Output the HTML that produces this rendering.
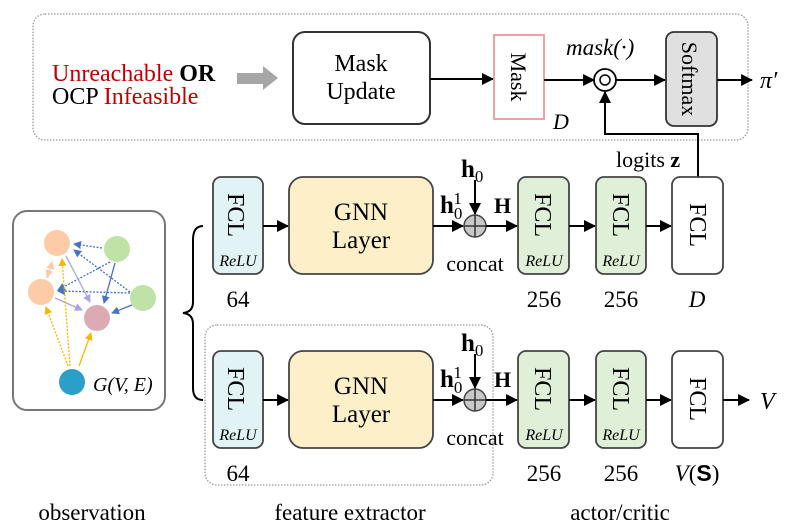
<!DOCTYPE html>
<html><head><meta charset="utf-8"><style>
html,body{margin:0;padding:0;background:#fff;}
svg{display:block;font-family:"Liberation Serif",serif;}
</style></head><body>
<svg width="798" height="532" viewBox="0 0 798 532" xmlns="http://www.w3.org/2000/svg">
<defs>
<marker id="a" markerWidth="12" markerHeight="12" refX="11" refY="6" orient="auto" markerUnits="userSpaceOnUse"><path d="M0,0 L12,6 L0,12 z" fill="#000"/></marker>
<marker id="ab" markerWidth="8" markerHeight="8" refX="7" refY="4" orient="auto" markerUnits="userSpaceOnUse"><path d="M0,0 L8,4 L0,8 z" fill="#4472c4"/></marker>
<marker id="ap" markerWidth="8" markerHeight="8" refX="7" refY="4" orient="auto" markerUnits="userSpaceOnUse"><path d="M0,0 L8,4 L0,8 z" fill="#a9a4e0"/></marker>
<marker id="ay" markerWidth="8" markerHeight="8" refX="7" refY="4" orient="auto" markerUnits="userSpaceOnUse"><path d="M0,0 L8,4 L0,8 z" fill="#f5b800"/></marker>
<marker id="ao" markerWidth="8" markerHeight="8" refX="7" refY="4" orient="auto" markerUnits="userSpaceOnUse"><path d="M0,0 L8,4 L0,8 z" fill="#f8cba8"/></marker>
</defs>

<rect x="33" y="14" width="715" height="126" rx="12" fill="none" stroke="#999" stroke-width="1.3" stroke-dasharray="1.5 1.5"/>
<text x="52" y="81" font-size="24" fill="#c00000">Unreachable <tspan fill="#000" font-weight="bold">OR</tspan></text>
<text x="52" y="104" font-size="24">OCP <tspan fill="#c00000">Infeasible</tspan></text>
<path d="M237,73 L263,73 L263,66 L278,78 L263,90 L263,84 L237,84 z" fill="#a6a6a6"/>
<rect x="293" y="32" width="137" height="92" rx="12" fill="#fff" stroke="#333" stroke-width="2"/>
<text x="361" y="71" font-size="24" text-anchor="middle">Mask</text>
<text x="361" y="99" font-size="24" text-anchor="middle">Update</text>
<line x1="430" y1="79" x2="493" y2="79" stroke="#000" stroke-width="2" marker-end="url(#a)"/>
<rect x="494" y="35" width="50" height="84" fill="#fff" stroke="#f0a0a0" stroke-width="2"/>
<text transform="translate(511,77) rotate(90)" font-size="22" text-anchor="middle">Mask</text>
<text x="553" y="129" font-size="22" font-style="italic">D</text>
<line x1="544" y1="80" x2="594" y2="80" stroke="#000" stroke-width="2" marker-end="url(#a)"/>
<circle cx="605" cy="80" r="11" fill="#fff" stroke="#000" stroke-width="1.8"/>
<circle cx="605" cy="80" r="5" fill="#fff" stroke="#000" stroke-width="1.5"/>
<text x="566" y="55" font-size="23" font-style="italic">mask(·)</text>
<line x1="616" y1="80" x2="665" y2="80" stroke="#000" stroke-width="2" marker-end="url(#a)"/>
<rect x="666" y="32" width="51" height="94" rx="8" fill="#e0e0e0" stroke="#333" stroke-width="1.8"/>
<text transform="translate(682,79) rotate(90)" font-size="22" text-anchor="middle">Softmax</text>
<line x1="717" y1="80" x2="752" y2="80" stroke="#000" stroke-width="2" marker-end="url(#a)"/>
<text x="760" y="88" font-size="24" font-style="italic">π′</text>
<polyline points="698,178 698,134 605,134 605,92" fill="none" stroke="#000" stroke-width="2" marker-end="url(#a)"/>
<text x="616" y="167" font-size="22">logits <tspan font-weight="bold">z</tspan></text>

<rect x="13" y="211" width="152" height="199" rx="14" fill="#fff" stroke="#777" stroke-width="2"/>
<g stroke-width="1.3" fill="none">
<line x1="102" y1="248" x2="74" y2="244" stroke="#4472c4" stroke-dasharray="2 1.5" marker-end="url(#ab)"/>
<line x1="130" y1="292" x2="74" y2="250" stroke="#4472c4" stroke-dasharray="2 1.5" marker-end="url(#ab)"/>
<line x1="110" y1="262" x2="58" y2="290" stroke="#4472c4" stroke-dasharray="2 1.5" marker-end="url(#ab)"/>
<line x1="130" y1="293" x2="58" y2="291" stroke="#4472c4" stroke-dasharray="2 1.5" marker-end="url(#ab)"/>
<line x1="115" y1="263" x2="104" y2="303" stroke="#4472c4" marker-end="url(#ab)"/>
<line x1="132" y1="305" x2="112" y2="313" stroke="#4472c4" marker-end="url(#ab)"/>
<line x1="66" y1="256" x2="90" y2="302" stroke="#a9a4e0" marker-end="url(#ap)"/>
<line x1="55" y1="298" x2="82" y2="310" stroke="#a9a4e0" marker-end="url(#ap)"/>
<line x1="51" y1="266" x2="47" y2="277" stroke="#f8cba8" stroke-dasharray="2 1.5" marker-end="url(#ao)"/>
<line x1="48" y1="278" x2="52" y2="262" stroke="#f8cba8" stroke-dasharray="2 1.5" marker-end="url(#ao)"/>
<line x1="68" y1="366" x2="46" y2="307" stroke="#f5b800" stroke-dasharray="2 1.5" marker-end="url(#ay)"/>
<line x1="70" y1="366" x2="62" y2="259" stroke="#f5b800" stroke-dasharray="2 1.5" marker-end="url(#ay)"/>
<line x1="79" y1="366" x2="91" y2="333" stroke="#f5b800" marker-end="url(#ay)"/>
</g>
<circle cx="57" cy="243" r="13" fill="#fdcba6"/>
<circle cx="117" cy="249" r="13" fill="#bfe2a6"/>
<circle cx="41" cy="292" r="13" fill="#fdcba6"/>
<circle cx="143" cy="298" r="13" fill="#bfe2a6"/>
<circle cx="97" cy="318" r="13" fill="#dcaab2"/>
<circle cx="72" cy="382" r="13" fill="#2aa0c8"/>
<text x="93" y="391" font-size="20" font-style="italic">G(V, E)</text>

<path d="M203,226 Q193,226 193,240 L193,302 Q193,312 183,313 Q193,314 193,324 L193,388 Q193,400 203,400" fill="none" stroke="#000" stroke-width="2"/>

<rect x="205" y="325" width="288" height="160" rx="12" fill="none" stroke="#999" stroke-width="1.3" stroke-dasharray="1.5 1.5"/>

<g>
<rect x="213" y="177" width="50" height="97" rx="8" fill="#e2f3f5" stroke="#444" stroke-width="1.8"/>
<text transform="translate(228,215) rotate(90)" font-size="24" text-anchor="middle">FCL</text>
<text x="238" y="266" font-size="16" font-style="italic" text-anchor="middle">ReLU</text>
<line x1="263" y1="226" x2="288" y2="226" stroke="#000" stroke-width="2" marker-end="url(#a)"/>
<rect x="289" y="177" width="144" height="97" rx="14" fill="#fdf0c8" stroke="#444" stroke-width="1.8"/>
<text x="361" y="220" font-size="25" text-anchor="middle">GNN</text>
<text x="361" y="248" font-size="25" text-anchor="middle">Layer</text>
<line x1="433" y1="226" x2="463" y2="226" stroke="#000" stroke-width="2" marker-end="url(#a)"/>
<circle cx="475" cy="226" r="11" fill="#c8c8c8" stroke="#444" stroke-width="1.5"/>
<path d="M464,226 H486 M475,215 V237" stroke="#333" stroke-width="1.5"/>
<line x1="475" y1="180" x2="475" y2="214" stroke="#000" stroke-width="2" marker-end="url(#a)"/>
<text x="461" y="177" font-size="25" font-weight="bold">h<tspan font-size="17" dy="5" font-weight="normal">0</tspan></text>
<text x="440" y="213" font-size="25" font-weight="bold">h<tspan font-size="17" dy="6" font-weight="normal">0</tspan><tspan font-size="17" dx="-9" dy="-15" font-weight="normal">1</tspan></text>
<text x="494" y="213" font-size="22" font-weight="bold">H</text>
<text x="475" y="271" font-size="22" text-anchor="middle">concat</text>
<line x1="486" y1="226" x2="517" y2="226" stroke="#000" stroke-width="2" marker-end="url(#a)"/>
<rect x="518" y="177" width="51" height="97" rx="8" fill="#e0f0d8" stroke="#444" stroke-width="1.8"/>
<text transform="translate(535,215) rotate(90)" font-size="24" text-anchor="middle">FCL</text>
<text x="544" y="266" font-size="16" font-style="italic" text-anchor="middle">ReLU</text>
<line x1="569" y1="226" x2="595" y2="226" stroke="#000" stroke-width="2" marker-end="url(#a)"/>
<rect x="596" y="177" width="50" height="97" rx="8" fill="#e0f0d8" stroke="#444" stroke-width="1.8"/>
<text transform="translate(613,215) rotate(90)" font-size="24" text-anchor="middle">FCL</text>
<text x="621" y="266" font-size="16" font-style="italic" text-anchor="middle">ReLU</text>
<line x1="646" y1="226" x2="671" y2="226" stroke="#000" stroke-width="2" marker-end="url(#a)"/>
<rect x="672" y="177" width="51" height="97" rx="8" fill="#fff" stroke="#444" stroke-width="1.8"/>
<text transform="translate(690,225) rotate(90)" font-size="24" text-anchor="middle">FCL</text>
<text x="238" y="307" font-size="23" text-anchor="middle">64</text>
<text x="544" y="307" font-size="23" text-anchor="middle">256</text>
<text x="621" y="307" font-size="23" text-anchor="middle">256</text>
<text x="697" y="307" font-size="23" font-style="italic" text-anchor="middle">D</text>

<rect x="213" y="351" width="50" height="97" rx="8" fill="#e2f3f5" stroke="#444" stroke-width="1.8"/>
<text transform="translate(228,389) rotate(90)" font-size="24" text-anchor="middle">FCL</text>
<text x="238" y="440" font-size="16" font-style="italic" text-anchor="middle">ReLU</text>
<line x1="263" y1="400" x2="288" y2="400" stroke="#000" stroke-width="2" marker-end="url(#a)"/>
<rect x="289" y="351" width="144" height="97" rx="14" fill="#fdf0c8" stroke="#444" stroke-width="1.8"/>
<text x="361" y="394" font-size="25" text-anchor="middle">GNN</text>
<text x="361" y="422" font-size="25" text-anchor="middle">Layer</text>
<line x1="433" y1="400" x2="463" y2="400" stroke="#000" stroke-width="2" marker-end="url(#a)"/>
<circle cx="475" cy="400" r="11" fill="#c8c8c8" stroke="#444" stroke-width="1.5"/>
<path d="M464,400 H486 M475,389 V411" stroke="#333" stroke-width="1.5"/>
<line x1="475" y1="354" x2="475" y2="388" stroke="#000" stroke-width="2" marker-end="url(#a)"/>
<text x="461" y="351" font-size="25" font-weight="bold">h<tspan font-size="17" dy="5" font-weight="normal">0</tspan></text>
<text x="440" y="387" font-size="25" font-weight="bold">h<tspan font-size="17" dy="6" font-weight="normal">0</tspan><tspan font-size="17" dx="-9" dy="-15" font-weight="normal">1</tspan></text>
<text x="494" y="387" font-size="22" font-weight="bold">H</text>
<text x="475" y="445" font-size="22" text-anchor="middle">concat</text>
<line x1="486" y1="400" x2="517" y2="400" stroke="#000" stroke-width="2" marker-end="url(#a)"/>
<rect x="518" y="351" width="51" height="97" rx="8" fill="#e0f0d8" stroke="#444" stroke-width="1.8"/>
<text transform="translate(535,389) rotate(90)" font-size="24" text-anchor="middle">FCL</text>
<text x="544" y="440" font-size="16" font-style="italic" text-anchor="middle">ReLU</text>
<line x1="569" y1="400" x2="595" y2="400" stroke="#000" stroke-width="2" marker-end="url(#a)"/>
<rect x="596" y="351" width="50" height="97" rx="8" fill="#e0f0d8" stroke="#444" stroke-width="1.8"/>
<text transform="translate(613,389) rotate(90)" font-size="24" text-anchor="middle">FCL</text>
<text x="621" y="440" font-size="16" font-style="italic" text-anchor="middle">ReLU</text>
<line x1="646" y1="400" x2="671" y2="400" stroke="#000" stroke-width="2" marker-end="url(#a)"/>
<rect x="672" y="351" width="51" height="97" rx="8" fill="#fff" stroke="#444" stroke-width="1.8"/>
<text transform="translate(690,399) rotate(90)" font-size="24" text-anchor="middle">FCL</text>
<line x1="723" y1="400" x2="749" y2="400" stroke="#000" stroke-width="2" marker-end="url(#a)"/>
<text x="760" y="409" font-size="24" font-style="italic">V</text>
<text x="238" y="481" font-size="23" text-anchor="middle">64</text>
<text x="544" y="481" font-size="23" text-anchor="middle">256</text>
<text x="621" y="481" font-size="23" text-anchor="middle">256</text>
<text x="697" y="481" font-size="23" text-anchor="middle"><tspan font-style="italic">V</tspan>(<tspan font-weight="bold" font-family="Liberation Sans, sans-serif">S</tspan>)</text>
</g>

<text x="92" y="520" font-size="23" text-anchor="middle">observation</text>
<text x="350" y="520" font-size="23" text-anchor="middle">feature extractor</text>
<text x="620" y="520" font-size="23" text-anchor="middle">actor/critic</text>
</svg>
</body></html>
